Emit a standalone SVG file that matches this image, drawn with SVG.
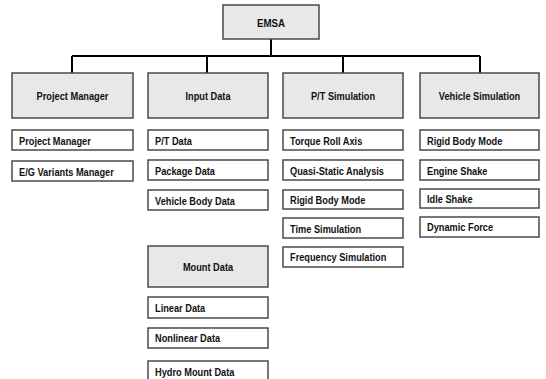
<svg xmlns="http://www.w3.org/2000/svg" width="546" height="379" viewBox="0 0 546 379">
<style>
.cat rect{fill:#e8e8e8;stroke:#4a4a4a;stroke-width:1.5}
.sub rect{fill:#ffffff;stroke:#4a4a4a;stroke-width:1.5}
text{font-family:"Liberation Sans",Arial,sans-serif;font-size:11px;font-weight:bold;fill:#111}
.cat text{text-anchor:middle}
.conn{fill:none;stroke:#000;stroke-width:2}
</style>
<rect width="546" height="379" fill="#fff"/>
<g id="connectors">
<path class="conn" d="M271 39V56M72 56H480M72 56V73M207 56V73M343 56V73M480 56V73"/>
</g>
<g id="emsa" class="cat"><rect x="223" y="5" width="96" height="34"/><text transform="translate(271 27) scale(.88 1)">EMSA</text></g>
<g id="project-manager" class="cat"><rect x="12" y="73" width="121" height="45"/><text transform="translate(72.5 100) scale(.84 1)">Project Manager</text></g>
<g id="input-data" class="cat"><rect x="148" y="73" width="120" height="45"/><text transform="translate(208 100) scale(.84 1)">Input Data</text></g>
<g id="pt-simulation" class="cat"><rect x="283" y="73" width="120" height="45"/><text transform="translate(343 100) scale(.84 1)">P/T Simulation</text></g>
<g id="vehicle-simulation" class="cat"><rect x="420" y="73" width="119" height="45"/><text transform="translate(479.5 100) scale(.84 1)">Vehicle Simulation</text></g>
<g id="mount-data" class="cat"><rect x="148" y="246" width="120" height="41"/><text transform="translate(208 271) scale(.84 1)">Mount Data</text></g>

<g id="pm-project-manager" class="sub"><rect x="12" y="130" width="121" height="20"/><text transform="translate(19 145) scale(.84 1)">Project Manager</text></g>
<g id="pm-eg-variants" class="sub"><rect x="12" y="161" width="121" height="20"/><text transform="translate(19 176) scale(.84 1)">E/G Variants Manager</text></g>

<g id="in-pt-data" class="sub"><rect x="148" y="130" width="120" height="20"/><text transform="translate(155 145) scale(.84 1)">P/T Data</text></g>
<g id="in-package-data" class="sub"><rect x="148" y="160" width="120" height="20"/><text transform="translate(155 175) scale(.84 1)">Package Data</text></g>
<g id="in-vehicle-body" class="sub"><rect x="148" y="190" width="120" height="20"/><text transform="translate(155 205) scale(.84 1)">Vehicle Body Data</text></g>

<g id="pt-torque-roll" class="sub"><rect x="283" y="130" width="120" height="20"/><text transform="translate(290 145) scale(.84 1)">Torque Roll Axis</text></g>
<g id="pt-quasi-static" class="sub"><rect x="283" y="160" width="120" height="20"/><text transform="translate(290 175) scale(.84 1)">Quasi-Static Analysis</text></g>
<g id="pt-rigid-body" class="sub"><rect x="283" y="190" width="120" height="19"/><text transform="translate(290 204) scale(.84 1)">Rigid Body Mode</text></g>
<g id="pt-time-sim" class="sub"><rect x="283" y="218" width="120" height="20"/><text transform="translate(290 233) scale(.84 1)">Time Simulation</text></g>
<g id="pt-freq-sim" class="sub"><rect x="283" y="247" width="120" height="20"/><text transform="translate(290 261) scale(.84 1)">Frequency Simulation</text></g>

<g id="vs-rigid-body" class="sub"><rect x="420" y="130" width="119" height="20"/><text transform="translate(427 145) scale(.84 1)">Rigid Body Mode</text></g>
<g id="vs-engine-shake" class="sub"><rect x="420" y="160" width="119" height="20"/><text transform="translate(427 175) scale(.84 1)">Engine Shake</text></g>
<g id="vs-idle-shake" class="sub"><rect x="420" y="189" width="119" height="19"/><text transform="translate(427 203) scale(.84 1)">Idle Shake</text></g>
<g id="vs-dynamic-force" class="sub"><rect x="420" y="217" width="119" height="20"/><text transform="translate(427 231) scale(.84 1)">Dynamic Force</text></g>

<g id="md-linear" class="sub"><rect x="148" y="297" width="120" height="21"/><text transform="translate(155 312) scale(.84 1)">Linear Data</text></g>
<g id="md-nonlinear" class="sub"><rect x="148" y="328" width="120" height="20"/><text transform="translate(155 342) scale(.84 1)">Nonlinear Data</text></g>
<g id="md-hydro" class="sub"><rect x="148" y="361" width="120" height="21"/><text transform="translate(155 376) scale(.84 1)">Hydro Mount Data</text></g>
</svg>
